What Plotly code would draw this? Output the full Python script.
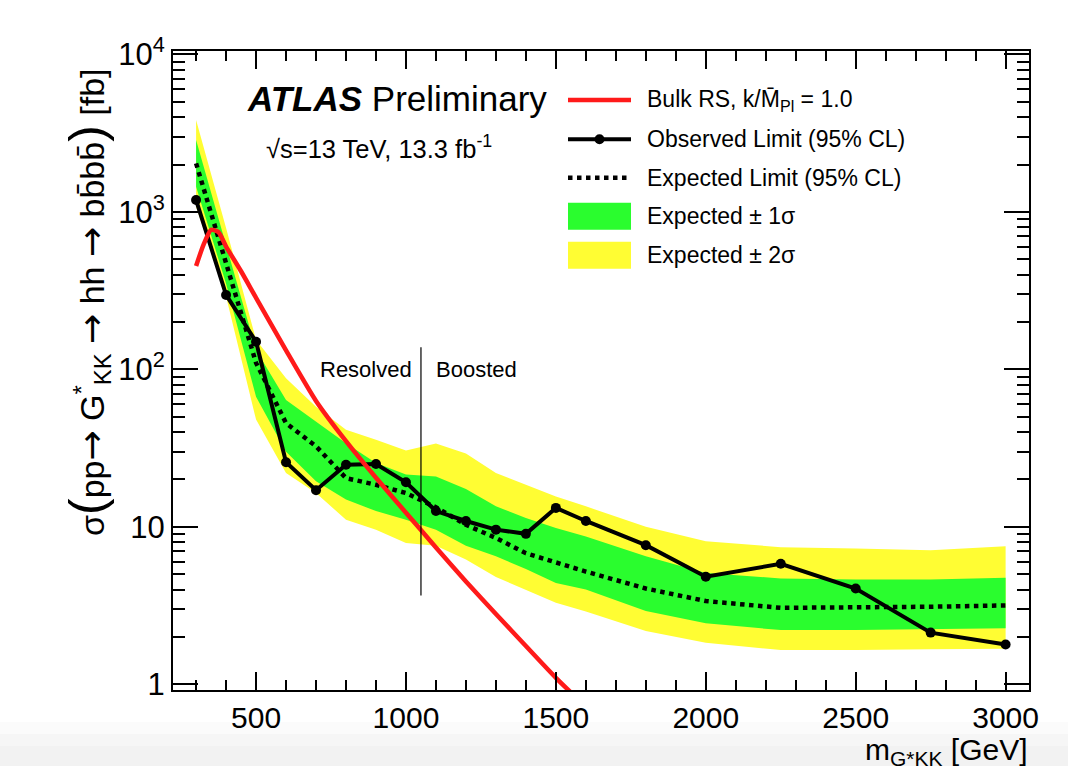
import plotly.graph_objects as go

# ---------------- data ----------------
mass = [300, 400, 500, 600, 700, 800, 900, 1000, 1100, 1200, 1300, 1400,
        1500, 1600, 1800, 2000, 2250, 2500, 2750, 3000]
observed = [1190, 297, 150, 25.7, 17.1, 24.8, 25.1, 19.2, 12.6, 10.9, 9.6, 9.03,
            13.2, 10.9, 7.65, 4.82, 5.83, 4.06, 2.13, 1.79]
expected = [2033, 481, 110, 45.6, 32.5, 20.4, 18.5, 16.4, 13.3, 10.3, 8.5, 6.8,
            5.9, 5.2, 4.06, 3.38, 3.06, 3.06, 3.11, 3.17]
exp_p1 = [2858, 614, 133, 64, 46.7, 34, 25.4, 21.5, 20.9, 17.4, 13.5, 11.4,
          9.85, 8.7, 6.5, 5.1, 4.7, 4.63, 4.63, 4.75]
exp_m1 = [1445, 350, 67, 30, 19.5, 14.9, 12.6, 11.1, 9.6, 7.6, 6.5, 5.4,
          4.4, 4.0, 2.92, 2.44, 2.21, 2.21, 2.23, 2.27]
exp_p2 = [3830, 791, 154, 88, 58, 41.4, 35.8, 30.6, 33.8, 29.2, 22, 18.5,
          15.6, 13.5, 10, 8.1, 7.43, 7.28, 7.11, 7.54]
exp_m2 = [1080, 290, 48, 22, 16.4, 11.1, 9.6, 7.9, 7.6, 6.2, 4.8, 4.0,
          3.3, 2.9, 2.18, 1.84, 1.65, 1.65, 1.67, 1.68]

theory_mass = [300, 325, 350, 375, 400, 450, 500, 600, 700, 800, 900, 1000,
               1100, 1200, 1300, 1400, 1500, 1600]
theory_xsec = [454, 620, 770, 743, 603, 420, 285, 132, 63, 35, 20.5, 12.3,
               7.4, 4.5, 2.8, 1.75, 1.1, 0.72]

boundary_mass = [1050, 1050]
boundary_xsec = [3.67, 138]

x_ticks = [500, 1000, 1500, 2000, 2500, 3000]
x_ticktext = ["500", "1000", "1500", "2000", "2500", "3000"]
y_ticks = [1, 10, 100, 1000, 10000]
y_ticktext = ["1", "10", "10<sup>2</sup>", "10<sup>3</sup>", "10<sup>4</sup>"]

legend_labels = ["Bulk RS, k/M\u0304<sub>Pl</sub> = 1.0",
                 "Observed Limit (95% CL)",
                 "Expected Limit (95% CL)",
                 "Expected \u00b1 1\u03c3",
                 "Expected \u00b1 2\u03c3"]

# ---------------- style ----------------
RED = "#ff1a1a"
GREEN = "#2afd2e"
YELLOW = "#fffd33"
FONT = "Liberation Sans"

W, H = 1068, 766
ML, MR, MT, MB = 173, 39, 51, 76
PW, PH = W - ML - MR, H - MT - MB


def px(x):
    return (x - ML) / PW


def py(y):
    return (H - MB - y) / PH


fig = go.Figure()

# 2 sigma band
fig.add_trace(go.Scatter(x=mass + mass[::-1], y=exp_p2 + exp_m2[::-1],
                         fill="toself", fillcolor=YELLOW, line=dict(width=0),
                         mode="lines", showlegend=False, hoverinfo="skip"))
# 1 sigma band
fig.add_trace(go.Scatter(x=mass + mass[::-1], y=exp_p1 + exp_m1[::-1],
                         fill="toself", fillcolor=GREEN, line=dict(width=0),
                         mode="lines", showlegend=False, hoverinfo="skip"))
# expected
fig.add_trace(go.Scatter(x=mass, y=expected, mode="lines",
                         line=dict(color="black", width=4.5, dash="4.5px,4.5px"),
                         showlegend=False))
# observed
fig.add_trace(go.Scatter(x=mass, y=observed, mode="lines+markers",
                         line=dict(color="black", width=4),
                         marker=dict(color="black", size=10),
                         showlegend=False))
# theory
fig.add_trace(go.Scatter(x=theory_mass, y=theory_xsec, mode="lines",
                         line=dict(color=RED, width=4.5, shape="spline", smoothing=0.6),
                         showlegend=False))
# resolved / boosted boundary
fig.add_trace(go.Scatter(x=boundary_mass, y=boundary_xsec, mode="lines",
                         line=dict(color="black", width=1.2), showlegend=False))

annotations = []
shapes = []

# bottom screenshot gradient
for y0, y1, c in [(722, 734, "#fbfbfb"), (734, 746, "#f6f6f6"), (746, 766, "#f2f2f2")]:
    shapes.append(dict(type="rect", xref="paper", yref="paper",
                       x0=px(0), x1=px(W), y0=py(y1), y1=py(y0),
                       fillcolor=c, line=dict(width=0), layer="below"))

# ATLAS label
annotations.append(dict(xref="paper", yref="paper", x=px(245), y=py(99),
                        xanchor="left", yanchor="middle", showarrow=False,
                        text="<b><i>ATLAS</i></b> Preliminary",
                        font=dict(family=FONT, size=35, color="black")))
annotations.append(dict(xref="paper", yref="paper", x=px(264), y=py(147),
                        xanchor="left", yanchor="middle", showarrow=False,
                        text="\u221as=13 TeV, 13.3 fb<sup>-1</sup>",
                        font=dict(family=FONT, size=25.5, color="black")))
# Resolved / Boosted
annotations.append(dict(xref="x", yref="paper", x=1050, y=py(369), xshift=-7,
                        xanchor="right", yanchor="middle", showarrow=False,
                        text="Resolved", font=dict(family=FONT, size=22, color="black")))
annotations.append(dict(xref="x", yref="paper", x=1050, y=py(369), xshift=13,
                        xanchor="left", yanchor="middle", showarrow=False,
                        text="Boosted", font=dict(family=FONT, size=22, color="black")))

# legend (manual)
rows = [100, 139.3, 177.7, 216.3, 255.3]
ix0, ix1 = 568, 631
shapes.append(dict(type="line", xref="paper", yref="paper", x0=px(ix0), x1=px(ix1),
                   y0=py(rows[0]), y1=py(rows[0]), line=dict(color=RED, width=4.5)))
shapes.append(dict(type="line", xref="paper", yref="paper", x0=px(ix0), x1=px(ix1),
                   y0=py(rows[1]), y1=py(rows[1]), line=dict(color="black", width=4)))
cx = (ix0 + ix1) / 2
shapes.append(dict(type="circle", xref="paper", yref="paper", x0=px(cx - 5), x1=px(cx + 5),
                   y0=py(rows[1] + 5), y1=py(rows[1] - 5), fillcolor="black",
                   line=dict(color="black", width=0)))
shapes.append(dict(type="line", xref="paper", yref="paper", x0=px(ix0), x1=px(ix1),
                   y0=py(rows[2]), y1=py(rows[2]),
                   line=dict(color="black", width=4.5, dash="4.5px,4.5px")))
shapes.append(dict(type="rect", xref="paper", yref="paper", x0=px(ix0), x1=px(ix1),
                   y0=py(rows[3] + 13.5), y1=py(rows[3] - 13.5), fillcolor=GREEN,
                   line=dict(width=0)))
shapes.append(dict(type="rect", xref="paper", yref="paper", x0=px(ix0), x1=px(ix1),
                   y0=py(rows[4] + 13.5), y1=py(rows[4] - 13.5), fillcolor=YELLOW,
                   line=dict(width=0)))
for r, lab in zip(rows, legend_labels):
    annotations.append(dict(xref="paper", yref="paper", x=px(645), y=py(r),
                            xanchor="left", yanchor="middle", showarrow=False,
                            text=lab, font=dict(family=FONT, size=23, color="black")))

# axis titles
annotations.append(dict(xref="paper", yref="paper", x=px(1030), y=py(751),
                        xanchor="right", yanchor="middle", showarrow=False,
                        text="m<sub>G*KK</sub> [GeV]",
                        font=dict(family=FONT, size=30, color="black")))

ARROW = "<span style='font-family:DejaVu Sans;font-size:36px'>\u2192</span>"
BIG_L = "<span style='font-size:50px'>(</span>"
BIG_R = "<span style='font-size:50px'>)</span>"
y_title = ("\u03c3" + BIG_L + "pp" + ARROW + " G<sup>*</sup><sub>KK</sub> " + ARROW +
           " hh " + ARROW + " bb\u0304bb\u0304" + BIG_R + " [fb]")
annotations.append(dict(xref="paper", yref="paper", x=px(87), y=py(302),
                        xanchor="center", yanchor="middle", showarrow=False,
                        textangle=-90, text=y_title,
                        font=dict(family=FONT, size=34, color="black")))

x_minor = [v for v in range(300, 3001, 100) if v not in x_ticks]
y_minor = [m * 10 ** d for d in range(0, 4) for m in range(2, 10)]

fig.update_layout(
    width=W, height=H,
    margin=dict(l=ML, r=MR, t=MT, b=MB),
    paper_bgcolor="white", plot_bgcolor="white",
    showlegend=False,
    font=dict(family=FONT, color="black"),
    annotations=annotations,
    shapes=shapes,
    xaxis=dict(range=[223, 3078], showgrid=False, zeroline=False,
               showline=True, linecolor="black", linewidth=2, mirror="allticks",
               ticks="inside", ticklen=18, tickwidth=1.5, tickcolor="black",
               tickmode="array", tickvals=x_ticks, ticktext=x_ticktext,
               tickfont=dict(family=FONT, size=30, color="black"),
               minor=dict(ticks="inside", ticklen=10, tickwidth=1.5, tickcolor="black",
                          tickvals=x_minor, showgrid=False)),
    yaxis=dict(type="log", range=[-0.036, 4.022], showgrid=False, zeroline=False,
               showline=True, linecolor="black", linewidth=2, mirror="allticks",
               ticks="inside", ticklen=25, tickwidth=1.5, tickcolor="black",
               tickmode="array", tickvals=y_ticks, ticktext=y_ticktext,
               tickfont=dict(family=FONT, size=31, color="black"),
               minor=dict(ticks="inside", ticklen=12, tickwidth=1.5, tickcolor="black",
                          tickvals=y_minor, showgrid=False)),
)

fig.write_html("out.html")
